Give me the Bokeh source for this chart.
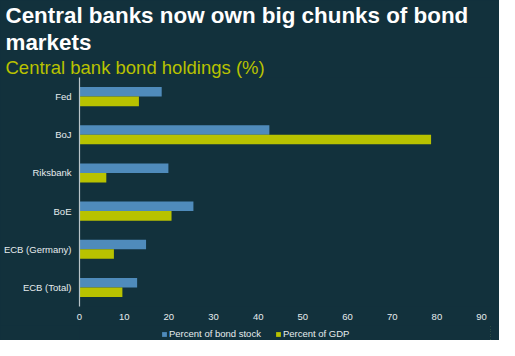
from bokeh.plotting import figure
from bokeh.layouts import column
from bokeh.models import (FactorRange, Range1d, FixedTicker, Title, Legend,
                          LegendItem, ColumnDataSource)
from bokeh.transform import dodge
from bokeh.embed import file_html
from bokeh.resources import INLINE

banks = ["Fed", "BoJ", "Riksbank", "BoE", "ECB (Germany)", "ECB (Total)"]
pct_bond_stock = [18.4, 42.5, 19.9, 25.5, 14.9, 12.9]
pct_gdp = [13.3, 78.7, 6.0, 20.6, 7.7, 9.6]
x_ticks = [0, 10, 20, 30, 40, 50, 60, 70, 80, 90]

title_line1 = "Central banks now own big chunks of bond"
title_line2 = "markets"
subtitle = "Central bank bond holdings (%)"
series_names = ["Percent of bond stock", "Percent of GDP"]

BG = "#12313c"
BLUE = "#4f8bbb"
GREEN = "#b8c200"
TXT = "#e6ecee"
FONT = "Liberation Sans"

src = ColumnDataSource(dict(bank=banks, stock=pct_bond_stock, gdp=pct_gdp))

p = figure(width=499, height=325, output_backend="svg", toolbar_location=None,
           y_range=FactorRange(*reversed(banks)), x_range=Range1d(0, 92),
           min_border_left=74, min_border_right=9, min_border_top=0,
           min_border_bottom=19)

p.background_fill_color = BG
p.border_fill_color = BG
p.outline_line_color = None

r1 = p.hbar(y=dodge("bank", 0.125, range=p.y_range), right="stock", left=0,
            height=0.25, source=src, color=BLUE, line_color=None)
r2 = p.hbar(y=dodge("bank", -0.125, range=p.y_range), right="gdp", left=0,
            height=0.25, source=src, color=GREEN, line_color=None)

p.xgrid.visible = False
p.ygrid.visible = False

xa = p.xaxis[0]
xa.ticker = FixedTicker(ticks=x_ticks)
xa.axis_line_color = None
xa.major_tick_line_color = None
xa.minor_tick_line_color = None
xa.major_tick_out = 0
xa.minor_tick_out = 0
xa.major_label_text_color = TXT
xa.major_label_text_font = FONT
xa.major_label_text_font_size = "9.5px"
xa.major_label_standoff = 7

ya = p.yaxis[0]
ya.axis_line_color = "#b8c4c8"
ya.axis_line_width = 1.2
ya.major_tick_line_color = None
ya.minor_tick_line_color = None
ya.major_tick_out = 0
ya.minor_tick_out = 0
ya.major_label_text_color = TXT
ya.major_label_text_font = FONT
ya.major_label_text_font_size = "9.5px"
ya.major_label_standoff = 8

p.y_range.range_padding = 0
p.y_range.group_padding = 0

t_sub = Title(text=subtitle, text_color=GREEN, text_font=FONT,
              text_font_size="18.5px", text_font_style="normal",
              standoff=0, offset=-74)
t2 = Title(text=title_line2, text_color="#ffffff", text_font=FONT,
           text_font_size="22.4px", text_font_style="bold", standoff=0,
           offset=-74)
t1 = Title(text=title_line1, text_color="#ffffff", text_font=FONT,
           text_font_size="22.4px", text_font_style="bold", standoff=0,
           offset=-74)
p.add_layout(t_sub, "above")
p.add_layout(t2, "above")
p.add_layout(t1, "above")

# legend strip below the chart (its frame is aligned with the chart's frame)
lf = figure(width=499, height=15, output_backend="svg", toolbar_location=None,
            x_axis_location=None, y_axis_location=None,
            x_range=Range1d(-10, -5), y_range=FactorRange(*reversed(banks)),
            min_border_left=0, min_border_right=0, min_border_top=0,
            min_border_bottom=0)
lf.background_fill_color = BG
lf.border_fill_color = BG
lf.outline_line_color = None
lf.xgrid.visible = False
lf.ygrid.visible = False
k1 = lf.hbar(y="bank", right="stock", left=0, height=0.25, source=src,
             color=BLUE, line_color=None)
k2 = lf.hbar(y="bank", right="gdp", left=0, height=0.25, source=src,
             color=GREEN, line_color=None)

legend = Legend(items=[LegendItem(label=series_names[0], renderers=[k1]),
                       LegendItem(label=series_names[1], renderers=[k2])],
                location=(82, 1), orientation="horizontal",
                background_fill_alpha=0, border_line_alpha=0,
                label_text_color=TXT, label_text_font=FONT,
                label_text_font_size="9.5px", glyph_width=6, glyph_height=6,
                label_standoff=2, spacing=14, padding=0, margin=0,
                label_height=10)
lf.add_layout(legend, "center")

page = column(p, lf, spacing=0)
page.styles = {"background-color": BG}
open("out.html", "w").write(file_html(page, INLINE))
